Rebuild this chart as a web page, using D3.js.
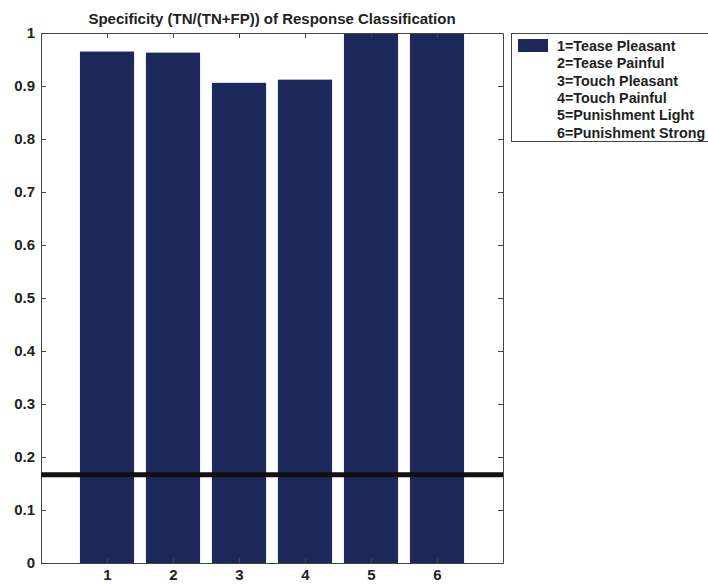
<!DOCTYPE html>
<html>
<head>
<meta charset="utf-8">
<script src="https://cdn.jsdelivr.net/npm/d3@7"></script>
<style>
  html, body { margin: 0; padding: 0; background: #fff; }
  svg { display: block; font-family: Arial, "Liberation Sans", Helvetica, sans-serif; font-weight: bold; }
</style>
</head>
<body>
<svg id="chart" width="708" height="584"></svg>
<script>
// Response classes (bar index) and their specificity values
const categories = [1, 2, 3, 4, 5, 6];
const specificity = [0.965, 0.963, 0.906, 0.912, 1.0, 1.0];
const classNames = [
  "1=Tease Pleasant",
  "2=Tease Painful",
  "3=Touch Pleasant",
  "4=Touch Painful",
  "5=Punishment Light",
  "6=Punishment Strong"
];
const yTicks = [0, 0.1, 0.2, 0.3, 0.4, 0.5, 0.6, 0.7, 0.8, 0.9, 1];
const chanceLevel = [1 / 6];
const titleText = "Specificity (TN/(TN+FP)) of Response Classification";

const svg = d3.select("#chart");
const plot = { left: 41, right: 503, top: 33, bottom: 563 };
const barColor = "#1d285a";
const axisColor = "#444";
const fontStack = "Arial, 'Liberation Sans', Helvetica, sans-serif";

const x = d3.scaleLinear().domain([0, 7]).range([plot.left, plot.right]);
const y = d3.scaleLinear().domain([0, 1]).range([plot.bottom, plot.top]);
const barWidth = 0.82;

// Bars
svg.append("g").selectAll("rect")
  .data(categories)
  .join("rect")
  .attr("x", (d) => x(d - barWidth / 2))
  .attr("width", (d) => x(barWidth) - x(0))
  .attr("y", (d, i) => y(specificity[i]))
  .attr("height", (d, i) => y(0) - y(specificity[i]))
  .attr("fill", barColor);

// Axes box with inward ticks on all sides
const tickLen = 5;

const leftAxis = d3.axisLeft(y).tickValues(yTicks).tickSizeInner(-tickLen).tickSizeOuter(0).tickFormat(d3.format("~g")).tickPadding(6);
const gl = svg.append("g").attr("transform", `translate(${plot.left},0)`).call(leftAxis);
const rightAxis = d3.axisRight(y).tickValues(yTicks).tickSizeInner(-tickLen).tickSizeOuter(0).tickFormat("");
const gr = svg.append("g").attr("transform", `translate(${plot.right},0)`).call(rightAxis);
const bottomAxis = d3.axisBottom(x).tickValues(categories).tickSizeInner(-tickLen).tickSizeOuter(0).tickFormat(d3.format("d")).tickPadding(6);
const gb = svg.append("g").attr("transform", `translate(0,${plot.bottom})`).call(bottomAxis);
const topAxis = d3.axisTop(x).tickValues(categories).tickSizeInner(-tickLen).tickSizeOuter(0).tickFormat("");
const gt = svg.append("g").attr("transform", `translate(0,${plot.top})`).call(topAxis);

[gl, gr, gb, gt].forEach((g) => {
  g.selectAll("path, line").attr("stroke", axisColor);
  g.selectAll("text").attr("fill", "#222").attr("font-size", 15).attr("font-weight", "bold")
    .attr("font-family", fontStack);
});

// Chance level line
svg.append("g").selectAll("line")
  .data(chanceLevel)
  .join("line")
  .attr("x1", plot.left)
  .attr("x2", plot.right)
  .attr("y1", (d) => y(d))
  .attr("y2", (d) => y(d))
  .attr("stroke", "#111")
  .attr("stroke-width", 5);

// Title
svg.append("text")
  .attr("x", (plot.left + plot.right) / 2)
  .attr("y", 24)
  .attr("text-anchor", "middle")
  .attr("font-size", 15)
  .attr("fill", "#222")
  .text(titleText);

// Legend
const legend = svg.append("g");
legend.append("rect")
  .attr("x", 511.5).attr("y", 33.5)
  .attr("width", 205).attr("height", 108)
  .attr("fill", "#fff").attr("stroke", axisColor);
legend.append("rect")
  .attr("x", 518).attr("y", 39)
  .attr("width", 30).attr("height", 13)
  .attr("fill", barColor);
legend.selectAll("text.item")
  .data(classNames)
  .join("text")
  .attr("class", "item")
  .attr("x", 557)
  .attr("y", (d, i) => 51 + i * 17.3)
  .attr("font-size", 14.3)
  .attr("fill", "#222")
  .text((d) => d);
</script>
</body>
</html>
